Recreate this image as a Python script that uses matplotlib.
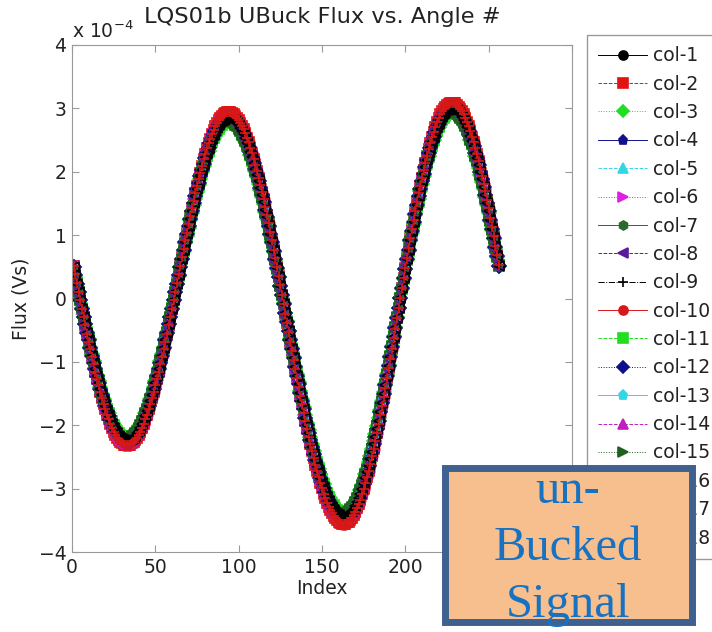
import numpy as np
import matplotlib
matplotlib.use("Agg")
import matplotlib.pyplot as plt
from matplotlib.patches import Rectangle

# Flux of col-1 (units of 1e-4 Vs), one value per index 1..256
flux_col1 = [
    0.50, 0.37, 0.23, 0.10, -0.03, -0.16, -0.29, -0.41, -0.54, -0.66,
    -0.78, -0.90, -1.01, -1.12, -1.23, -1.33, -1.43, -1.53, -1.62, -1.70,
    -1.78, -1.85, -1.92, -1.98, -2.04, -2.09, -2.13, -2.17, -2.20, -2.22,
    -2.24, -2.25, -2.25,
    -2.25, -2.24, -2.22, -2.20, -2.17, -2.13, -2.09, -2.04, -1.98, -1.92,
    -1.85, -1.78, -1.70, -1.62, -1.53, -1.43, -1.33, -1.23, -1.12, -1.01,
    -0.90, -0.78, -0.66, -0.54, -0.41, -0.29, -0.16, -0.03, 0.10, 0.23,
    0.37, 0.50, 0.63, 0.76, 0.89, 1.01, 1.14, 1.26, 1.38, 1.50,
    1.61, 1.72, 1.83, 1.93, 2.03, 2.13, 2.22, 2.30, 2.38, 2.45,
    2.52, 2.58, 2.64, 2.69, 2.73, 2.77, 2.80, 2.82, 2.84, 2.85, 2.85,
    2.85, 2.84, 2.82, 2.80, 2.77, 2.73, 2.69, 2.64, 2.59, 2.53,
    2.46, 2.39, 2.31, 2.23, 2.14, 2.05, 1.95, 1.85, 1.74, 1.63,
    1.52, 1.40, 1.28, 1.15, 1.02, 0.89, 0.75, 0.62, 0.48, 0.34,
    0.20, 0.06, -0.08, -0.23,
    -0.37, -0.52, -0.66, -0.80, -0.94, -1.08, -1.22, -1.35, -1.49, -1.62,
    -1.75, -1.88, -2.00, -2.12, -2.23, -2.34, -2.45, -2.55, -2.65, -2.74,
    -2.83, -2.91, -2.99, -3.06, -3.13, -3.19, -3.24, -3.29, -3.33, -3.37,
    -3.40, -3.42, -3.44, -3.45, -3.45,
    -3.45, -3.43, -3.42, -3.39, -3.36, -3.32, -3.27, -3.21, -3.15, -3.08,
    -3.00, -2.92, -2.83, -2.74, -2.64, -2.53, -2.42, -2.30, -2.18, -2.06,
    -1.93, -1.79, -1.65, -1.51, -1.37, -1.22, -1.07, -0.92, -0.77, -0.61,
    -0.46, -0.30,
    -0.15, 0.01, 0.16, 0.32, 0.47, 0.62, 0.77, 0.92, 1.06, 1.20,
    1.34, 1.48, 1.61, 1.73, 1.85, 1.97, 2.08, 2.19, 2.29, 2.38,
    2.47, 2.55, 2.63, 2.70, 2.76, 2.82, 2.87, 2.91, 2.94, 2.97,
    2.98, 3.00, 3.00,
    3.00, 2.99, 2.97, 2.94, 2.91, 2.87, 2.82, 2.77, 2.71, 2.64,
    2.56, 2.48, 2.40, 2.30, 2.21, 2.10, 1.99, 1.88, 1.76, 1.64,
    1.51, 1.38, 1.24, 1.10, 0.96, 0.81, 0.67, 0.52,
]

col_names = ["col-%d" % k for k in range(1, 19)]
# amplitude of each column relative to col-1 (they all sit on top of each other)
col_gain = [1.00, 1.03, 0.98, 1.00, 0.99, 1.01, 0.98, 1.01, 1.00,
            1.03, 0.98, 1.00, 0.99, 1.01, 0.98, 1.01, 1.00, 1.03]
col_colors = ["#000000", "#e01414", "#22dd22", "#10108c", "#33d6e6", "#e020e0",
              "#2a6a2a", "#5a1a9a", "#000000", "#d81818", "#22dd22", "#10108c",
              "#33d6e6", "#c020c0", "#1f5f1f", "#5a1a9a", "#000000", "#d81818"]
col_markers = ["o", "s", "D", "p", "^", ">", "h", "<", "+",
               "o", "s", "D", "p", "^", ">", "h", "<", "+"]
col_styles = ["-", "--", ":", "-", "--", ":", "-", "--", "-.",
              "-", "--", ":", "-", "--", ":", "-", "--", "-."]

x_ticks = [0, 50, 100, 150, 200, 250, 300]
y_ticks = [-4, -3, -2, -1, 0, 1, 2, 3, 4]
box_lines = ["un-", "Bucked", "Signal"]

plt.rcParams["font.family"] = ["DejaVu Sans"]
plt.rcParams["font.size"] = 13.5

W, H = 712, 632
fig = plt.figure(figsize=(W / 100, H / 100), dpi=100)
ax = fig.add_axes([72 / W, 1 - 552 / H, 500 / W, 507 / H])

idx = np.arange(1, len(flux_col1) + 1)
base = np.array(flux_col1)
for k in range(len(col_names)):
    # matlab style: hollow markers
    ax.plot(idx, base * col_gain[k], color=col_colors[k], marker=col_markers[k],
            linestyle=col_styles[k], lw=0.8, ms=7.5, mew=1.2,
            mec=col_colors[k], mfc="none", label=col_names[k])

ax.set_xlim(0, 300)
ax.set_ylim(-4, 4)
ax.set_xticks(x_ticks)
ax.set_yticks(y_ticks)
ax.tick_params(direction="in", top=True, right=True, length=5, color="#999999",
               labelcolor="#222222", pad=4)
for sp in ax.spines.values():
    sp.set_color("#999999")
ax.set_xlabel("Index", color="#222222", labelpad=2)
ax.set_ylabel("Flux (Vs)", color="#222222", labelpad=6)
ax.set_title("LQS01b UBuck Flux vs. Angle #", color="#222222", pad=16)
ax.text(0.0, 1.005, r"x 10$^{-4}$", transform=ax.transAxes, ha="left", va="bottom",
        color="#222222")

leg = ax.legend(loc="upper left", bbox_to_anchor=(587 / W, 1 - 35 / H),
                bbox_transform=fig.transFigure, fancybox=False, framealpha=1,
                edgecolor="#999999", handlelength=2.6, handletextpad=0.3,
                labelspacing=0.5, borderpad=0.6, borderaxespad=0, fontsize=13.5)
for t in leg.get_texts():
    t.set_color("#222222")
for h in leg.legend_handles:
    h.set_markerfacecolor(h.get_color())
    h.set_markersize(6.5)
    h.set_linewidth(0.7)

# orange call-out box
fig.add_artist(Rectangle((445 / W, 1 - 622 / H), 247 / W, 154 / H,
                         transform=fig.transFigure, facecolor="#f8bf8e",
                         edgecolor="#3e6190", lw=5, zorder=10))
for i, line in enumerate(box_lines):
    fig.text(568 / W, 1 - (503 + 57 * i) / H, line, ha="center", va="baseline",
             family="Liberation Serif", fontsize=35, color="#1872c2", zorder=11)

fig.savefig("out.png", dpi=100)
